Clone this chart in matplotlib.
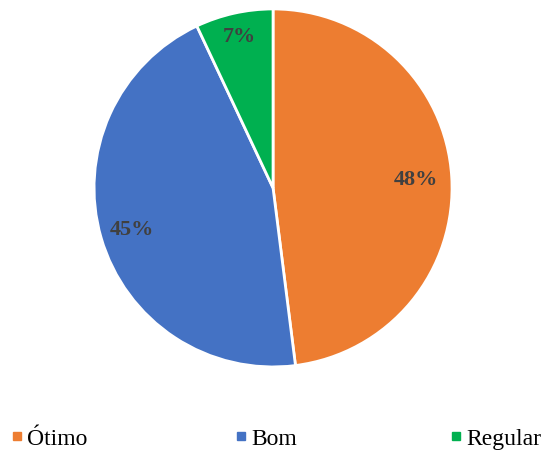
import matplotlib
matplotlib.use("Agg")
import matplotlib.pyplot as plt
import numpy as np
from matplotlib.lines import Line2D

labels = ["Ótimo", "Bom", "Regular"]
values = [48, 45, 7]
colors = ["#ED7D31", "#4472C4", "#00B050"]
label_r = [0.80, 0.82, 0.87]            # radial position of each percentage label
legend_x = [0.020, 0.431, 0.826]        # left edge of each legend entry, figure fraction

serif = "Liberation Serif"

fig = plt.figure(figsize=(5.45, 4.52), dpi=100)
ax = fig.add_axes([0.1725, 0.186, 0.657, 0.792])
wedges, texts, autotexts = ax.pie(
    values, colors=colors, startangle=90, counterclock=False,
    autopct="%1.0f%%", pctdistance=0.81,
    wedgeprops=dict(edgecolor="white", linewidth=2),
    textprops=dict(fontsize=16, fontweight="bold", color="#404040", family=serif))
for w, t, r in zip(wedges, autotexts, label_r):
    a = np.deg2rad((w.theta1 + w.theta2) / 2)
    t.set_position((r * np.cos(a), r * np.sin(a)))
ax.set_xlim(-1, 1); ax.set_ylim(-1, 1)
ax.set_aspect("equal")

for lab, c, x in zip(labels, colors, legend_x):
    h = Line2D([], [], marker="s", linestyle="none", markersize=6,
               markerfacecolor=c, markeredgecolor=c)
    fig.legend([h], [lab], loc="center left", bbox_to_anchor=(x, 0.028),
               frameon=False, prop=dict(family=serif, size=17), handlelength=0.5,
               handletextpad=0.2, borderpad=0, borderaxespad=0)

fig.savefig("out.png", dpi=100)
